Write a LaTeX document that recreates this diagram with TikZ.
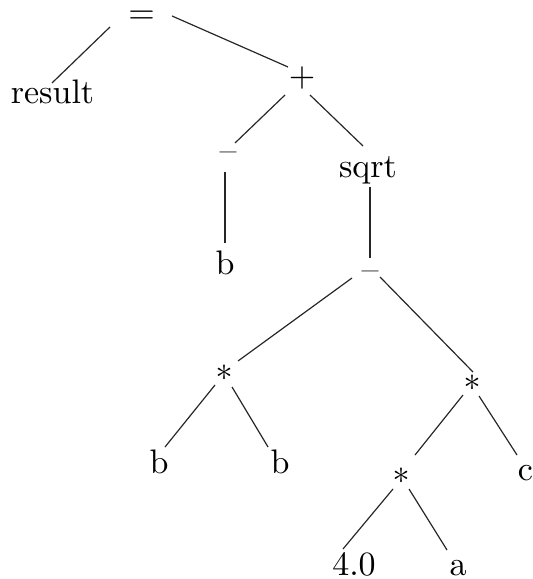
\documentclass[tikz,border=0pt]{standalone}
\usetikzlibrary{calc}
\begin{document}
\begin{tikzpicture}[x=0.294pt, y=-0.294pt,
    lbl/.style={inner sep=0pt, anchor=base, font=\fontsize{10}{12}\selectfont},
    branch/.style={line width=0.35pt, draw=black!85}]
\useasboundingbox (0,0) rectangle (532,579);

% tree nodes (placed by baseline)
\node[lbl] (eq)    at (141.5,23.5) {=};
\node[lbl] (res)   at (52.5,104)   {result};
\node[lbl] (plus)  at (302,86.5)   {+};
\node[lbl] (neg)   at (228,162)    {--};
\node[lbl] (sqrt)  at (368,178)    {sqrt};
\node[lbl] (bA)    at (225,275)    {b};
\node[lbl] (minus) at (370,281)    {--};
\node[lbl] (mulL)  at (224,391)    {*};
\node[lbl] (mulR)  at (472,400)    {*};
\node[lbl] (bB)    at (159,473)    {b};
\node[lbl] (bC)    at (280,473)    {b};
\node[lbl] (mulF)  at (401,493)    {*};
\node[lbl] (cc)    at (525.5,480)  {c};
\node[lbl] (four)  at (354,575)    {4.0};
\node[lbl] (aa)    at (458,575)    {a};

% branches
\draw[branch] ($(eq.base)+(-31.5,3.5)$)  -- ($(res.base)+(-0.5,-21)$);
\draw[branch] ($(eq.base)+(30.5,-7.5)$)  -- ($(plus.base)+(-14,-19.5)$);
\draw[branch] ($(plus.base)+(-17,8.5)$)  -- ($(neg.base)+(7,-19)$);
\draw[branch] ($(plus.base)+(8,8.5)$)    -- ($(sqrt.base)+(-5,-32)$);
\draw[branch] ($(neg.base)+(-3,10)$)     -- ($(bA.base)+(0,-32)$);
\draw[branch] ($(sqrt.base)+(2,9)$)      -- ($(minus.base)+(0,-23)$);
\draw[branch] ($(minus.base)+(-18,-3)$)  -- ($(mulL.base)+(14,-30)$);
\draw[branch] ($(minus.base)+(10,-4)$)   -- ($(mulR.base)+(1,-28)$);
\draw[branch] ($(mulL.base)+(-9,-6)$)    -- ($(bB.base)+(6,-26)$);
\draw[branch] ($(mulL.base)+(8,-4)$)     -- ($(bC.base)+(-12,-26)$);
\draw[branch] ($(mulR.base)+(-9,-5)$)    -- ($(mulF.base)+(14,-38)$);
\draw[branch] ($(mulR.base)+(7,-4)$)     -- ($(cc.base)+(-8.5,-25)$);
\draw[branch] ($(mulF.base)+(-8,-4)$)    -- ($(four.base)+(-11,-26)$);
\draw[branch] ($(mulF.base)+(8,-4)$)     -- ($(aa.base)+(-11,-25)$);
\end{tikzpicture}
\end{document}
